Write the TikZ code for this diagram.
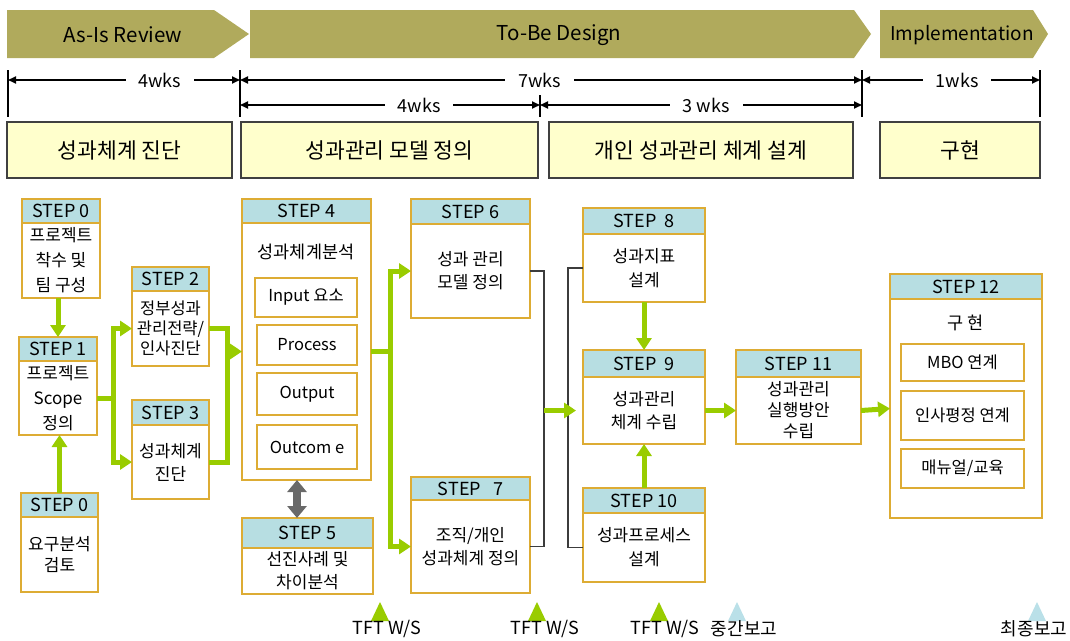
\documentclass[tikz,border=0pt]{standalone}
\usepackage{fontspec}
\setmainfont{Noto Sans CJK KR}
\usetikzlibrary{arrows.meta}

\definecolor{phase}{RGB}{176,170,92}
\definecolor{paleyellow}{RGB}{255,255,204}
\definecolor{frame}{RGB}{221,172,52}
\definecolor{headblue}{RGB}{183,222,226}
\definecolor{flowgreen}{RGB}{153,204,0}
\definecolor{milesky}{RGB}{186,224,232}
\definecolor{linkgray}{RGB}{60,60,60}
\definecolor{swapgray}{RGB}{105,105,105}

\newcommand\fs[1]{\fontsize{#1}{#1}\selectfont}

% step box: [body options] name, left, top, right, bottom, header bottom, header label, body text
\newcommand\stepbox[9][]{%
  \node[stepframe, anchor=north west, minimum width={#5-#3}, minimum height={#6-#4}] (#2) at (#3,#4) {};
  \node[stephead, anchor=north west, minimum width={#5-#3}, minimum height={#7-#4}] (#2-head) at (#3,#4) {#8};
  \node[stepbody, anchor=north west, minimum width={#5-#3}, minimum height={#6-#7}, #1] (#2-body) at (#3,#7) {#9};
}

\begin{document}
\begin{tikzpicture}[x=1pt,y=-1pt,
  phasetext/.style={font=\fs{20.5}, inner sep=0},
  span/.style={line width=1.7pt, {Triangle[length=8pt,width=7pt]}-{Triangle[length=8pt,width=7pt]}},
  spanlabel/.style={fill=white, inner xsep=13pt, inner ysep=2pt, font=\fs{18}},
  spantick/.style={line width=1.4pt},
  stagebox/.style={draw=black!75, line width=1.3pt, fill=paleyellow, inner sep=0, outer sep=0, anchor=north west, font=\fs{21.5}},
  stepframe/.style={draw=frame, line width=1.5pt, fill=white, inner sep=0, outer sep=0},
  stephead/.style={draw=frame, line width=1.5pt, fill=headblue, inner sep=0, outer sep=0, font=\fs{18}},
  stepbody/.style={inner sep=0, outer sep=0, align=center, font=\fontsize{17}{25}\selectfont},
  subbox/.style={draw=frame, line width=1.5pt, fill=white, inner sep=0, outer sep=0, anchor=north west, font=\fs{16.5}},
  bodytitle/.style={inner sep=0, font=\fs{17.5}},
  flow/.style={draw=flowgreen, line width=5pt, -{Triangle[length=12pt,width=15pt]}},
  flowline/.style={draw=flowgreen, line width=5pt},
  link/.style={draw=linkgray, line width=1.4pt},
  swap/.style={draw=swapgray, line width=8pt, {Triangle[length=12pt,width=19pt]}-{Triangle[length=12pt,width=19pt]}},
  mslabel/.style={inner sep=0, font=\fs{18}},
]
\useasboundingbox (0,0) rectangle (1070,640);

% ---- phase banners ----
\fill[phase] (7,10) -- (214,10) -- (249,34) -- (214,58) -- (7,58) -- cycle;
\fill[phase] (250,10) -- (854,10) -- (871,34) -- (854,58) -- (250,58) -- cycle;
\fill[phase] (880,10) -- (1033,10) -- (1048,34) -- (1033,58) -- (880,58) -- cycle;
\node[phasetext] (ph1) at (123,35) {As-Is Review};
\node[phasetext] (ph2) at (559,35) {To-Be Design};
\node[phasetext, font=\fs{19}] (ph3) at (962,35) {Implementation};

% ---- duration scale ----
\coordinate (k0) at (8,0);
\coordinate (k1) at (240,0);
\coordinate (k2) at (540,0);
\coordinate (k3) at (862,0);
\coordinate (k4) at (1040,0);
\coordinate (r1) at (0,80);
\coordinate (r2) at (0,105);
\draw[spantick] (8,70) -- (8,117);
\draw[spantick] (240,70) -- (240,117);
\draw[spantick] (540,95) -- (540,117);
\draw[spantick] (862,70) -- (862,117);
\draw[spantick] (1040,70) -- (1040,117);
\draw[span] (k0 |- r1) -- (k1 |- r1) node[pos=0.655, spanlabel] (w1) {4wks};
\draw[span] (k1 |- r1) -- (k3 |- r1) node[pos=0.482, spanlabel] (w2) {7wks};
\draw[span] (k3 |- r1) -- (k4 |- r1) node[pos=0.534, spanlabel] (w3) {1wks};
\draw[span] (k1 |- r2) -- (k2 |- r2) node[pos=0.597, spanlabel] (w4) {4wks};
\draw[span] (k2 |- r2) -- (k3 |- r2) node[pos=0.516, spanlabel] (w5) {3 wks};

% ---- stage boxes ----
\node[stagebox, minimum width=225, minimum height=56] (g1) at (7,122) {성과체계 진단};
\node[stagebox, minimum width=297, minimum height=56] (g2) at (241,122) {성과관리 모델 정의};
\node[stagebox, minimum width=304, minimum height=56] (g3) at (549,122) {개인 성과관리 체계 설계};
\node[stagebox, minimum width=160, minimum height=56] (g4) at (880,122) {구현};

% ---- steps ----
\stepbox{s0a}{22}{199}{100}{298}{223}{STEP 0}{프로젝트\\착수 및\\팀 구성}
\stepbox{s1}{19}{337}{97}{435}{361}{STEP 1}{프로젝트\\Scope\\정의}
\stepbox[font=\fontsize{17}{21}\selectfont]{s0b}{21}{493}{98}{592}{517}{STEP 0}{요구분석\\검토}
\stepbox[font=\fontsize{16.5}{20}\selectfont]{s2}{132}{267}{209}{366}{291}{STEP 2}{정부성과\\관리전략/\\인사진단}
\stepbox[font=\fontsize{17}{23}\selectfont]{s3}{132}{400}{209}{499}{425}{STEP 3}{성과체계\\진단}
\stepbox{s4}{242}{199}{371}{480}{223}{STEP 4}{}
\stepbox[font=\fontsize{17}{23}\selectfont]{s5}{242}{518}{373}{594}{548}{STEP 5}{선진사례 및\\차이분석}
\stepbox[font=\fontsize{17}{23}\selectfont]{s6}{411}{199}{530}{318}{224}{STEP 6}{성과 관리\\모델 정의}
\stepbox[font=\fontsize{17}{23}\selectfont]{s7}{411}{477}{530}{593}{500}{STEP~~~7}{조직/개인\\성과체계 정의}
\stepbox[font=\fontsize{17}{24}\selectfont]{s8}{583}{208}{705}{302}{234}{STEP~~8}{성과지표\\설계}
\stepbox[font=\fontsize{17}{23}\selectfont]{s9}{583}{350}{705}{444}{377}{STEP~~9}{성과관리\\체계 수립}
\stepbox[font=\fontsize{17}{24}\selectfont]{s10}{583}{488}{705}{582}{513}{STEP 10}{성과프로세스\\설계}
\stepbox[font=\fontsize{17}{21}\selectfont]{s11}{736}{350}{861}{444}{377}{STEP 11}{성과관리\\실행방안\\수립}
\stepbox{s12}{890}{274}{1042}{518}{299}{STEP 12}{}

% STEP 4 contents
\node[bodytitle] (s4-title) at (306,252) {성과체계분석};
\node[subbox, minimum width=102, minimum height=39] (s4-in) at (255,278) {Input 요소};
\node[subbox, minimum width=100, minimum height=40] (s4-pr) at (257,325) {Process};
\node[subbox, minimum width=100, minimum height=42] (s4-out) at (257,373) {Output};
\node[subbox, minimum width=100, minimum height=44] (s4-oc) at (257,425) {Outcom e};

% STEP 12 contents
\node[bodytitle] (s12-title) at (966,323) {구 현};
\node[subbox, minimum width=123, minimum height=37] (s12-a) at (901,344) {MBO 연계};
\node[subbox, minimum width=123, minimum height=49] (s12-b) at (901,391) {인사평정 연계};
\node[subbox, minimum width=123, minimum height=39] (s12-c) at (901,449) {매뉴얼/교육};

% ---- connectors ----
\coordinate (b1) at (113,0);
\coordinate (b2) at (227,0);
\coordinate (b3) at (390,0);
\coordinate (b4) at (544,0);
\coordinate (b5) at (568,0);
\coordinate (b6) at (576,0);
\coordinate (sw) at (297,0);

\draw[flow] (s1-head.north |- s0a-body.south) -- (s1-head.north);
\draw[flow] (s0b-head.north) -- (s0b-head.north |- s1-body.south);

\draw[flow] (s1-body.east) -| (b1 |- s2-body.west) -- (s2-body.west);
\draw[flow] (s1-body.east) -| (b1 |- s3-body.west) -- (s3-body.west);

\draw[flowline] (s2-body.east) -| (b2 |- s3-body.east) -- (s3-body.east);
\draw[flow] (b2 |- s4-body.west) -- (s4-body.west);

\draw[flow] (s4-body.east) -| (b3 |- s6-body.west) -- (s6-body.west);
\draw[flow] (s4-body.east) -| (b3 |- s7-body.west) -- (s7-body.west);

\draw[swap] (sw |- s4-body.south) -- (sw |- s5-head.north);

\draw[link] (s6-body.east) -| (b4 |- s7-body.east) -- (s7-body.east);
\draw[link] (s8-body.west) -| (b5 |- s10-body.west) -- (s10-body.west);
\draw[flow] (b4 |- s9-body.west) -- (b6 |- s9-body.west);

\draw[flow] (s8-body.south) -- (s9-head.north);
\draw[flow] (s10-head.north) -- (s9-body.south);
\draw[flow] (s9-body.east) -- (s11-body.west);
\draw[flow] (s11-body.east) -- (s12-body.west);

% ---- milestones ----
\coordinate (ms1) at (380,612);
\coordinate (ms2) at (537,612);
\coordinate (ms3) at (659,612);
\coordinate (ms4) at (737,612);
\coordinate (ms5) at (1037,612);
\fill[flowgreen] (ms1) ++(0,-10) -- ++(9,19) -- ++(-18,0) -- cycle;
\fill[flowgreen] (ms2) ++(0,-10) -- ++(9,19) -- ++(-18,0) -- cycle;
\fill[flowgreen] (ms3) ++(0,-10) -- ++(9,19) -- ++(-18,0) -- cycle;
\fill[milesky] (ms4) ++(0,-10) -- ++(9,19) -- ++(-18,0) -- cycle;
\fill[milesky] (ms5) ++(0,-10) -- ++(9,19) -- ++(-18,0) -- cycle;
\node[mslabel] (ms1-l) at (387,629) {TFT W/S};
\node[mslabel] (ms2-l) at (545,629) {TFT W/S};
\node[mslabel] (ms3-l) at (665,629) {TFT W/S};
\node[mslabel] (ms4-l) at (744,629) {중간보고};
\node[mslabel] (ms5-l) at (1034,629) {최종보고};
\end{tikzpicture}
\end{document}
